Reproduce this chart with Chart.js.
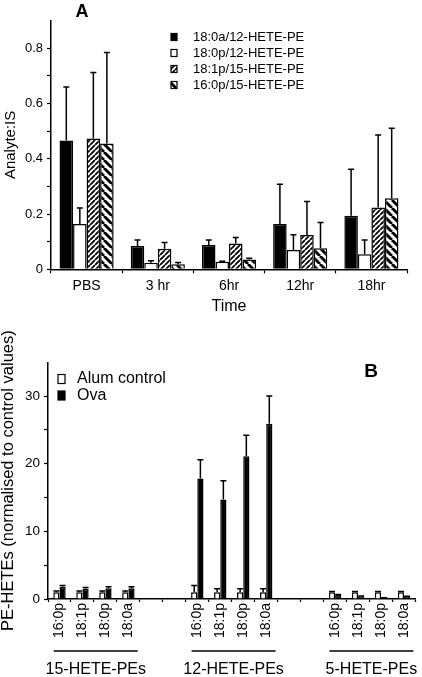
<!DOCTYPE html>
<html>
<head>
<meta charset="utf-8">
<script src="https://cdn.jsdelivr.net/npm/chart.js@4.4.1/dist/chart.umd.min.js"></script>
<style>
  body { margin: 0; background: #fff; }
  #chartA { position: absolute; left: 0; top: 0; }
  #chartB { position: absolute; left: 0; top: 318px; }
</style>
</head>
<body>
<canvas id="chartA" width="422" height="318"></canvas>
<canvas id="chartB" width="422" height="359"></canvas>
<script>
// ---- panel A data ----
const timeLabels = ['PBS', '3 hr', '6hr', '12hr', '18hr'];
const pe180a12 = [0.466, 0.084, 0.088, 0.164, 0.194];
const pe180a12Err = [0.193, 0.022, 0.018, 0.144, 0.168];
const pe180p12 = [0.164, 0.024, 0.027, 0.070, 0.054];
const pe180p12Err = [0.058, 0.007, 0.002, 0.055, 0.052];
const pe181p15 = [0.473, 0.074, 0.093, 0.124, 0.224];
const pe181p15Err = [0.239, 0.023, 0.022, 0.121, 0.262];
const pe160p15 = [0.455, 0.018, 0.035, 0.076, 0.257];
const pe160p15Err = [0.329, 0.007, 0.005, 0.093, 0.253];

// ---- panel B data ----
const species = ['16:0p', '18:1p', '18:0p', '18:0a'];
const families = ['15-HETE-PEs', '12-HETE-PEs', '5-HETE-PEs'];
const alum15 = [1.0, 1.0, 1.0, 1.0];
const alum15Err = [0.2, 0.2, 0.2, 0.2];
const ova15 = [1.8, 1.5, 1.6, 1.6];
const ova15Err = [0.2, 0.2, 0.2, 0.2];
const alum12 = [1.0, 1.0, 1.0, 1.0];
const alum12Err = [1.0, 0.5, 0.5, 0.5];
const ova12 = [17.8, 14.7, 21.1, 25.9];
const ova12Err = [2.8, 2.8, 3.1, 4.1];
const alum5 = [1.0, 1.0, 1.0, 1.0];
const alum5Err = [0.1, 0.1, 0.1, 0.1];
const ova5 = [0.6, 0.4, 0.15, 0.35];
const ova5Err = [0.05, 0.05, 0.05, 0.05];

Chart.defaults.font.family = "'Liberation Sans', Arial, sans-serif";
Chart.defaults.color = '#000';

function hatch(size, dir) {
  const c = document.createElement('canvas');
  c.width = size; c.height = size;
  const g = c.getContext('2d');
  g.fillStyle = '#fff';
  g.fillRect(0, 0, size, size);
  g.strokeStyle = '#000';
  g.lineWidth = size * 0.36;
  g.beginPath();
  for (let k = -1; k <= 1; k++) {
    if (dir === '/') { g.moveTo(k * size, size); g.lineTo(k * size + size, 0); }
    else { g.moveTo(k * size, 0); g.lineTo(k * size + size, size); }
  }
  g.stroke();
  return g.createPattern(c, 'repeat');
}

// error bars (upper only) from the dataset's errors array
const errorBars = {
  id: 'errorBars',
  afterDatasetsDraw(chart) {
    const ctx = chart.ctx, y = chart.scales.y;
    chart.data.datasets.forEach((ds, i) => {
      const meta = chart.getDatasetMeta(i);
      meta.data.forEach((bar, j) => {
        const v = ds.data[j], e = ds.errors[j];
        if (v == null || e == null) return;
        const top = y.getPixelForValue(v + e);
        ctx.save();
        ctx.strokeStyle = '#000';
        ctx.lineWidth = 1.5;
        ctx.beginPath();
        ctx.moveTo(bar.x, bar.y);
        ctx.lineTo(bar.x, top);
        ctx.moveTo(bar.x - 3, top);
        ctx.lineTo(bar.x + 3, top);
        ctx.stroke();
        ctx.restore();
      });
    });
  }
};

// small legend + panel letter drawn inside the plot
const panelDecor = {
  id: 'panelDecor',
  afterDraw(chart, args, opts) {
    const ctx = chart.ctx;
    ctx.save();
    ctx.fillStyle = '#000';
    ctx.font = 'bold ' + opts.letterSize + "px 'Liberation Sans', Arial, sans-serif";
    ctx.textAlign = 'center';
    ctx.textBaseline = 'middle';
    ctx.fillText(opts.letter, opts.letterX, opts.letterY);
    ctx.font = opts.legendSize + "px 'Liberation Sans', Arial, sans-serif";
    ctx.textAlign = 'left';
    chart.data.datasets.forEach((ds, i) => {
      const yy = opts.legendY + i * opts.legendStep;
      ctx.fillStyle = ds.backgroundColor;
      ctx.fillRect(opts.legendX, yy - opts.box[1] / 2, opts.box[0], opts.box[1]);
      ctx.strokeStyle = '#000';
      ctx.lineWidth = 1.2;
      ctx.strokeRect(opts.legendX, yy - opts.box[1] / 2, opts.box[0], opts.box[1]);
      ctx.fillStyle = '#000';
      ctx.fillText(ds.label, opts.textX, yy);
    });
    ctx.restore();
  }
};

const axisGrid = {
  drawOnChartArea: false,
  tickLength: 4,
  tickColor: '#000',
  tickWidth: 1.2
};

new Chart(document.getElementById('chartA'), {
  type: 'bar',
  data: {
    labels: timeLabels,
    datasets: [
      { label: '18:0a/12-HETE-PE', data: pe180a12, errors: pe180a12Err, backgroundColor: '#000' },
      { label: '18:0p/12-HETE-PE', data: pe180p12, errors: pe180p12Err, backgroundColor: '#fff' },
      { label: '18:1p/15-HETE-PE', data: pe181p15, errors: pe181p15Err, backgroundColor: hatch(5, '/') },
      { label: '16:0p/15-HETE-PE', data: pe160p15, errors: pe160p15Err, backgroundColor: hatch(8, '\\') }
    ]
  },
  options: {
    responsive: false,
    animation: false,
    layout: { padding: { top: 20.5, right: 15, left: 0, bottom: 0 } },
    datasets: { bar: { borderColor: '#000', borderWidth: 1.5, categoryPercentage: 0.76, barPercentage: 1.0 } },
    scales: {
      x: {
        afterFit: s => { s.height = 48.7; },
        grid: axisGrid,
        border: { color: '#000', width: 1.5 },
        ticks: { font: { size: 14 }, padding: 4 },
        title: { display: true, text: 'Time', font: { size: 16 }, padding: { top: 0, bottom: 1.5 } }
      },
      y: {
        min: 0, max: 0.9,
        afterFit: s => { s.width = 51; },
        grid: Object.assign({}, axisGrid, {
          tickColor: c => (c.tick && c.tick.value > 0.85) ? 'rgba(0,0,0,0)' : '#000'
        }),
        border: { color: '#000', width: 1.5 },
        ticks: {
          stepSize: 0.1, padding: 4, font: { size: 13 },
          callback: v => {
            const t = Math.round(v * 10);
            return (t % 2 === 0 && t <= 8) ? String(t / 10) : '';
          }
        },
        title: { display: true, text: 'Analyte:IS', font: { size: 15, lineHeight: 1.2 }, padding: { top: 2, bottom: 0 } }
      }
    },
    plugins: {
      legend: { display: false },
      tooltip: { enabled: false },
      panelDecor: {
        letter: 'A', letterSize: 18, letterX: 82, letterY: 12,
        legendSize: 13, legendX: 171, textX: 193, legendY: 37, legendStep: 16, box: [6, 7]
      }
    }
  },
  plugins: [errorBars, panelDecor]
});

// ---- panel B: build categories with gaps between the families ----
const gap = ['', ''];
const bLabels = [].concat(species, gap, species, gap, species);
const pad = [null, null];
const alumAll = [].concat(alum15, pad, alum12, pad, alum5);
const alumAllErr = [].concat(alum15Err, pad, alum12Err, pad, alum5Err);
const ovaAll = [].concat(ova15, pad, ova12, pad, ova5);
const ovaAllErr = [].concat(ova15Err, pad, ova12Err, pad, ova5Err);

const familyLabels = {
  id: 'familyLabels',
  afterDraw(chart) {
    const ctx = chart.ctx, x = chart.scales.x;
    const w = x.getPixelForValue(1) - x.getPixelForValue(0);
    ctx.save();
    ctx.strokeStyle = '#000';
    ctx.lineWidth = 1.5;
    ctx.fillStyle = '#000';
    ctx.font = "16px 'Liberation Sans', Arial, sans-serif";
    ctx.textAlign = 'center';
    ctx.textBaseline = 'middle';
    families.forEach((name, i) => {
      const first = i * (species.length + gap.length);
      const c = (x.getPixelForValue(first) + x.getPixelForValue(first + species.length - 1)) / 2 + 0.08 * w;
      ctx.beginPath();
      ctx.moveTo(c - 42, 333);
      ctx.lineTo(c + 42, 333);
      ctx.stroke();
      ctx.fillText(name, c, 352);
    });
    ctx.restore();
  }
};

new Chart(document.getElementById('chartB'), {
  type: 'bar',
  data: {
    labels: bLabels,
    datasets: [
      { label: 'Alum control', data: alumAll, errors: alumAllErr, backgroundColor: '#fff' },
      { label: 'Ova', data: ovaAll, errors: ovaAllErr, backgroundColor: '#000' }
    ]
  },
  options: {
    responsive: false,
    animation: false,
    layout: { padding: { top: 44.3, right: 6, left: 0, bottom: 0 } },
    datasets: { bar: { borderColor: '#000', borderWidth: 1.5, categoryPercentage: 0.54, barPercentage: 1.0 } },
    scales: {
      x: {
        afterFit: s => { s.height = 78; },
        grid: Object.assign({}, axisGrid, { tickLength: 3 }),
        border: { color: '#000', width: 1.5 },
        ticks: { font: { size: 14 }, padding: 1, autoSkip: false, minRotation: 90, maxRotation: 90 }
      },
      y: {
        min: 0, max: 35,
        afterFit: s => { s.width = 48; },
        grid: Object.assign({}, axisGrid, {
          tickColor: c => (c.tick && c.tick.value > 32) ? 'rgba(0,0,0,0)' : '#000'
        }),
        border: { color: '#000', width: 1.5 },
        ticks: {
          stepSize: 5, padding: 4, font: { size: 13.5 },
          callback: v => (v % 10 === 0 && v <= 30) ? String(v) : ''
        },
        title: {
          display: true, text: 'PE-HETEs (normalised to control values)',
          font: { size: 16.5, lineHeight: 1 }, padding: { top: 0, bottom: 0 }
        }
      }
    },
    plugins: {
      legend: { display: false },
      tooltip: { enabled: false },
      panelDecor: {
        letter: 'B', letterSize: 19, letterX: 371, letterY: 54,
        legendSize: 16, legendX: 58, textX: 77, legendY: 61, legendStep: 16.5, box: [7, 9]
      }
    }
  },
  plugins: [errorBars, panelDecor, familyLabels]
});
</script>
</body>
</html>
